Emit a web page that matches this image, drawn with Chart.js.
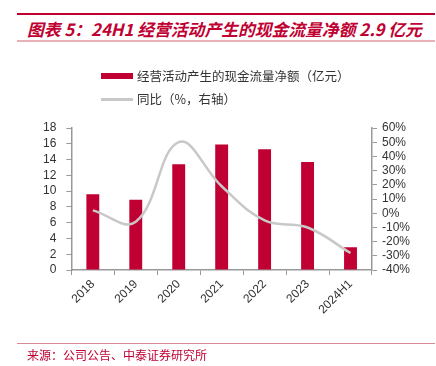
<!DOCTYPE html>
<html>
<head>
<meta charset="utf-8">
<script src="https://cdn.jsdelivr.net/npm/chart.js@4"></script>
<style>
  html, body { margin: 0; padding: 0; background: #fff; }
  #wrap { position: relative; width: 436px; height: 366px; overflow: hidden; font-family: "Noto Sans CJK SC", "Liberation Sans", sans-serif; }
  #chart { position: absolute; left: 0; top: 0; }
  .rule { position: absolute; left: 17px; width: 418px; }
  #title { position: absolute; left: 27px; top: 18px; font-size: 16.8px; font-weight: bold; font-style: italic; color: #c00032; white-space: nowrap; line-height: 22px; }
  .leg { position: absolute; left: 101px; font-size: 12.5px; color: #333; white-space: nowrap; }
  .leg .mark { position: absolute; left: 0; width: 32px; }
  .leg span.txt { position: absolute; left: 36px; top: -9px; line-height: 18px; }
  #source { position: absolute; left: 27px; top: 347px; font-size: 12px; color: #c00032; line-height: 16px; white-space: nowrap; }
</style>
</head>
<body>
<div id="wrap">
  <div class="rule" style="top:13px;height:2px;background:#c00032"></div>
  <div id="title">图表 5：24H1 经营活动产生的现金流量净额 2.9 亿元</div>
  <div class="rule" style="top:40px;height:1.5px;background:#eab0b8"></div>
  <canvas id="chart" width="436" height="366"></canvas>
  <div class="leg" style="top:76px"><div class="mark" style="top:-3px;height:6px;background:#c00032"></div><span class="txt">经营活动产生的现金流量净额（亿元）</span></div>
  <div class="leg" style="top:99px"><div class="mark" style="top:-1px;height:2.5px;background:#c8c8c8"></div><span class="txt">同比（%，右轴）</span></div>
  <div class="rule" style="top:343px;height:1px;background:#d98a95"></div>
  <div id="source">来源：公司公告、中泰证券研究所</div>
</div>
<script>
// 数据
const categories = ['2018', '2019', '2020', '2021', '2022', '2023', '2024H1'];
const cashFlow = [9.6, 8.9, 13.4, 15.9, 15.3, 13.7, 2.9];
const yoy = [2, -6, 50, 19, -5, -10, -28];

const axisColor = '#999';
const tickFont = { family: 'Liberation Sans, Arial, sans-serif', size: 12 };

const ctx = document.getElementById('chart').getContext('2d');
new Chart(ctx, {
  data: {
    labels: categories,
    datasets: [
      {
        type: 'line',
        label: '同比（%，右轴）',
        data: yoy,
        yAxisID: 'y1',
        borderColor: '#c8c8c8',
        borderWidth: 2.5,
        pointRadius: 0,
        tension: 0.4,
        fill: false,
        order: 0
      },
      {
        type: 'bar',
        label: '经营活动产生的现金流量净额（亿元）',
        data: cashFlow,
        yAxisID: 'y',
        backgroundColor: '#c00032',
        barPercentage: 0.3,
        categoryPercentage: 1,
        order: 1
      }
    ]
  },
  options: {
    responsive: false,
    animation: false,
    layout: { padding: { top: 128, left: 33, right: 21, bottom: 47 } },
    plugins: { legend: { display: false }, tooltip: { enabled: false } },
    scales: {
      x: {
        grid: { display: true, drawOnChartArea: false, color: axisColor, tickLength: 5 },
        border: { color: axisColor, width: 1.5 },
        ticks: { color: '#333', font: tickFont, minRotation: 45, maxRotation: 45, padding: 2 }
      },
      y: {
        position: 'left',
        min: 0, max: 18,
        grid: { display: true, drawOnChartArea: false, color: axisColor, tickLength: 5 },
        border: { color: axisColor, width: 1.5 },
        ticks: { stepSize: 2, autoSkip: false, color: '#333', font: tickFont, padding: 10 }
      },
      y1: {
        position: 'right',
        min: -40, max: 60,
        grid: { display: true, drawOnChartArea: false, color: axisColor, tickLength: 5 },
        border: { color: axisColor, width: 1.5 },
        ticks: { stepSize: 10, autoSkip: false, color: '#333', font: tickFont, padding: 5, callback: v => v + '%' }
      }
    }
  }
});
</script>
</body>
</html>
